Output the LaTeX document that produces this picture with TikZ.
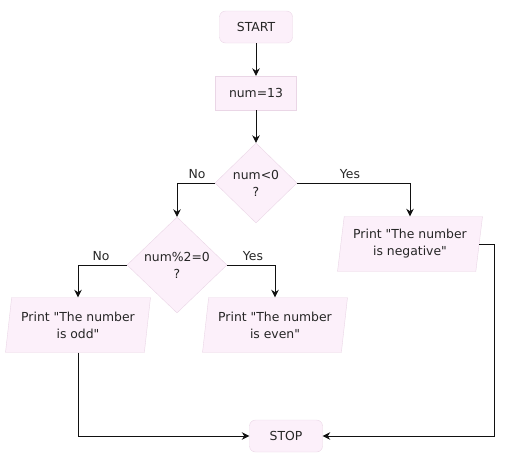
\documentclass[tikz,border=0pt]{standalone}
\usepackage{fontspec}
\setmainfont{DejaVu Sans}[Ligatures=TeXOff]
\usetikzlibrary{shapes.geometric,arrows.meta}
\definecolor{boxfill}{HTML}{FCF0FA}
\definecolor{boxline}{HTML}{EAD6E6}
\definecolor{txt}{HTML}{262626}
\definecolor{conn}{HTML}{111111}
\begin{document}
\begin{tikzpicture}[x=1pt,y=-1pt,
  every node/.style={font=\fontsize{12.4}{17}\selectfont, text=txt},
  term/.style={draw=boxline, fill=boxfill, rounded corners=6pt, minimum width=73pt, minimum height=32pt, inner sep=0pt},
  proc/.style={draw=boxline, fill=boxfill, minimum width=81pt, minimum height=34pt, inner sep=0pt},
  decis/.style={draw=boxline, fill=boxfill, diamond, inner sep=0pt},
  io/.style={draw=boxline, fill=boxfill, trapezium, trapezium left angle=77, trapezium right angle=103,
     trapezium stretches body=true, minimum width=145pt, minimum height=55pt, inner sep=0pt, align=center},
  conn/.style={draw=conn, line width=0.9pt, -{Stealth[length=7.5pt,width=7.5pt]}},
  lab/.style={inner sep=0pt}
]
\useasboundingbox (0,0) rectangle (505,461);

\node[term] (start) at (256,27) {START};
\node[proc] (init) at (256,93) {num=13};
\node[decis, minimum width=82pt, minimum height=80pt,
  label={[align=center, text=txt]center:num<0\\?}] (d1) at (256,183) {};
\node[decis, minimum width=100pt, minimum height=96pt,
  label={[align=center, text=txt]center:num\%2=0\\?}] (d2) at (177,265) {};
\node[io] (neg) at (410,244) {Print "The number\\is negative"};
\node[io] (odd) at (78,325) {Print "The number\\is odd"};
\node[io] (even) at (275,325) {Print "The number\\is even"};
\node[term] (stop) at (286,436) {STOP};
\coordinate (rc) at (494,0);

\node[lab] (lyes1) at (350,174) {Yes};
\node[lab] (lno1) at (197,174) {No};
\node[lab] (lyes2) at (253,256) {Yes};
\node[lab] (lno2) at (101,256) {No};

\draw[conn] (start) -- (init);
\draw[conn] (init) -- (d1);
\draw[conn] (d1.east) -| (neg.north);
\draw[conn] (d1.west) -| (d2.north);
\draw[conn] (d2.east) -| (even.north);
\draw[conn] (d2.west) -| (odd.north);
\draw[conn] (odd.south) |- (stop.west);
\draw[conn] (neg.east) -- (neg.east -| rc) |- (stop.east);
\end{tikzpicture}
\end{document}
